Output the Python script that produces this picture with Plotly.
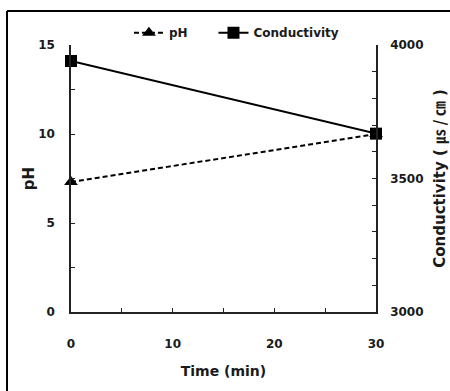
import plotly.graph_objects as go

time_min = [0, 30]
ph_values = [7.3, 10.0]
conductivity_values = [3940, 3668]
series_names = ["pH", "Conductivity"]

FONT = "Tahoma, Verdana, DejaVu Sans, sans-serif"
TXT = "#1a1a1a"

fig = go.Figure()
fig.add_trace(go.Scatter(
    x=time_min, y=ph_values, name=series_names[0] + "\u00a0" * 5, mode="lines+markers",
    line=dict(color="black", width=2, dash="5px,3px"),
    marker=dict(symbol="triangle-up", size=12, color="black"),
    cliponaxis=False, yaxis="y"))
fig.add_trace(go.Scatter(
    x=time_min, y=conductivity_values, name=series_names[1], mode="lines+markers",
    line=dict(color="black", width=2),
    marker=dict(symbol="square", size=12, color="black"),
    cliponaxis=False, yaxis="y2"))

axis_common = dict(showgrid=False, zeroline=False, showline=True, linecolor="#222",
                   linewidth=1.5, ticks="inside", ticklen=4, tickcolor="#222",
                   automargin=False,
                   tickfont=dict(family=FONT, size=12, color=TXT, weight="bold"))

fig.update_layout(
    width=450, height=391,
    margin=dict(l=71, r=74, t=45, b=79),
    paper_bgcolor="white", plot_bgcolor="white",
    showlegend=True,
    legend=dict(orientation="h", x=0.19, y=1.1, xanchor="left", yanchor="top",
                font=dict(family=FONT, size=12, color=TXT, weight="bold"),
                bgcolor="rgba(0,0,0,0)", itemwidth=30, tracegroupgap=0),
    xaxis=dict(range=[0, 30], dtick=10, minor=dict(dtick=5, ticks="inside", ticklen=4, tickcolor="#222"),
               ticklabelstandoff=20,
               title=dict(text="Time (min)", standoff=16,
                          font=dict(family=FONT, size=14, color=TXT, weight="bold")),
               **axis_common),
    yaxis=dict(range=[0, 15], dtick=5, minor=dict(dtick=2.5, ticks="inside", ticklen=4, tickcolor="#222"),
               ticklabelstandoff=12,
               title=dict(text="pH", standoff=0,
                          font=dict(family=FONT, size=15, color=TXT, weight="bold")),
               **axis_common),
    yaxis2=dict(range=[3000, 4000], dtick=500, overlaying="y", side="right",
                minor=dict(dtick=100, ticks="inside", ticklen=4, tickcolor="#222"),
                ticklabelstandoff=10,
                title=dict(text="Conductivity ( <span style='font-family:Noto Sans CJK KR'>㎲ / ㎝</span> )",
                           standoff=22,
                           font=dict(family=FONT, size=15, color=TXT, weight="bold")),
                **axis_common),
    shapes=[
        dict(type="line", xref="paper", yref="paper", x0=-0.2098, x1=1.3, y0=1.1273, y1=1.1273,
             line=dict(color="black", width=2)),
        dict(type="line", xref="paper", yref="paper", x0=-0.2098, x1=-0.2098, y0=-0.3, y1=1.1273,
             line=dict(color="black", width=2)),
    ],
)

fig.write_html("out.html")
